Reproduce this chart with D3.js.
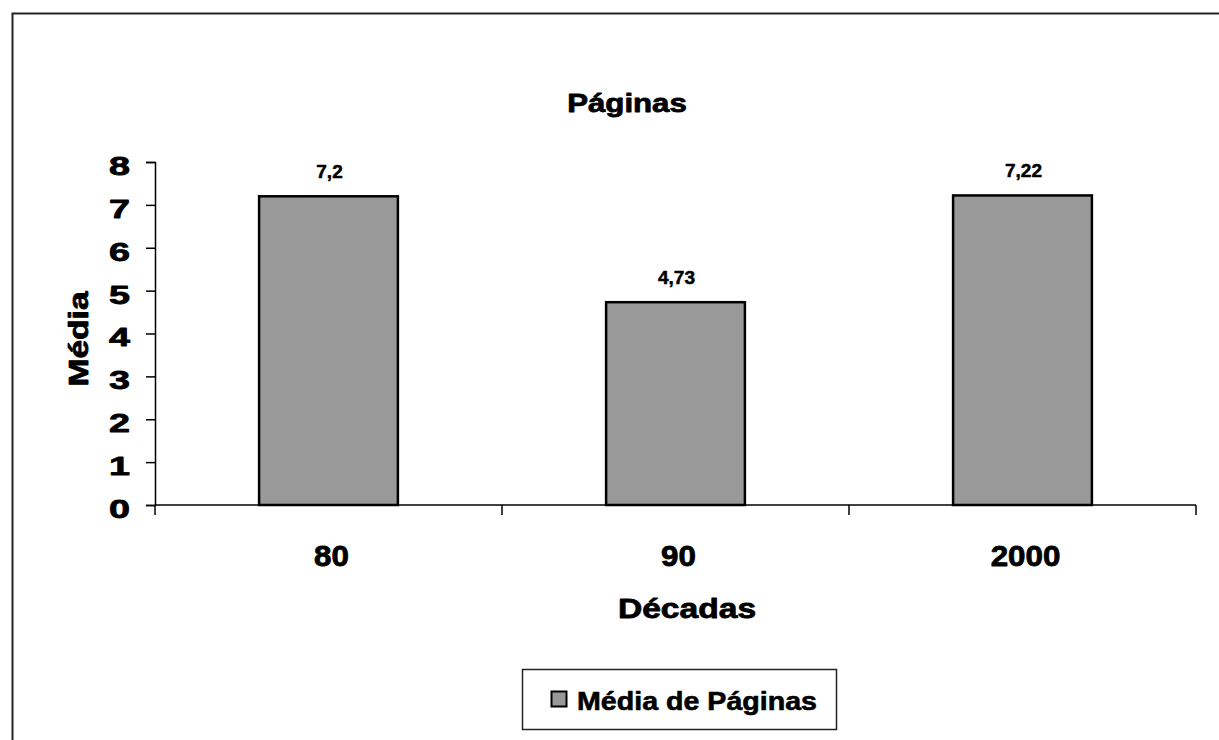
<!DOCTYPE html>
<html>
<head>
<meta charset="utf-8">
<script src="https://cdn.jsdelivr.net/npm/d3@7"></script>
<style>
  html, body { margin: 0; padding: 0; background: #fff; }
  svg { display: block; }
  text { font-family: "Liberation Sans", Arial, sans-serif; font-weight: bold; fill: #000; }
</style>
</head>
<body>
<svg id="chart" width="1219" height="740"></svg>
<script>
// Average number of pages per decade
const decades = ["80", "90", "2000"];
const meanPages = [7.2, 4.73, 7.22];
const valueLabels = ["7,2", "4,73", "7,22"];
const yTicks = [0, 1, 2, 3, 4, 5, 6, 7, 8];
const seriesName = "Média de Páginas";

const svg = d3.select("#chart");

// heavy label look: bold face thickened with a thin outline
function heavy(sel, size, spacing, weight) {
  return sel
    .style("font-size", size + "px")
    .style("letter-spacing", (spacing || 0) + "px")
    .attr("stroke", "#000")
    .attr("stroke-width", weight == null ? 0.7 : weight)
    .attr("stroke-linejoin", "round");
}

// outer chart frame
svg.append("path")
  .attr("d", "M12.5,745 V13.5 H1225")
  .attr("fill", "none").attr("stroke", "#222").attr("stroke-width", 2);

const plot = { left: 155, right: 1196, top: 162, bottom: 505 };

const x = d3.scaleBand()
  .domain(decades)
  .range([plot.left, plot.right])
  .paddingInner(0.6)
  .paddingOuter(0.3);

const xOuter = d3.scaleBand().domain(decades).range([plot.left, plot.right]).padding(0);

const y = d3.scaleLinear().domain([0, 8]).range([plot.bottom, plot.top]);

// title (wide heavy face)
heavy(svg.append("text")
  .attr("transform", "translate(627,112) scale(1.2,1)")
  .attr("text-anchor", "middle")
  .text("Páginas"), 26, 0, 0.8);

// bars
svg.selectAll("rect.bar")
  .data(meanPages)
  .join("rect")
  .attr("class", "bar")
  .attr("x", (d, i) => x(decades[i]))
  .attr("y", d => y(d))
  .attr("width", x.bandwidth())
  .attr("height", d => y(0) - y(d))
  .attr("fill", "#999999")
  .attr("stroke", "#000")
  .attr("stroke-width", 2.5);

// value labels
heavy(svg.selectAll("text.val")
  .data(meanPages)
  .join("text")
  .attr("class", "val")
  .attr("x", (d, i) => x(decades[i]) + x.bandwidth() / 2 + 1)
  .attr("y", d => y(d) - 18)
  .attr("text-anchor", "middle")
  .text((d, i) => valueLabels[i]), 19, 0, 0.5);

// y axis
const yAxis = svg.append("g")
  .attr("transform", `translate(${plot.left},0)`)
  .call(d3.axisLeft(y).tickValues(yTicks).tickSize(9).tickFormat(d3.format("d")));
yAxis.select(".domain").attr("stroke", "#000").attr("stroke-width", 1.5);
yAxis.selectAll(".tick line").attr("stroke", "#000").attr("stroke-width", 1.5);
const yLabels = yAxis.selectAll(".tick text")
  .attr("x", null)
  .attr("dy", "0.48em")
  .attr("text-anchor", "end")
  .attr("transform", "translate(-25,0) scale(1.45,1)")
  .style("font-family", "'Liberation Sans', Arial, sans-serif")
  .style("font-weight", "bold");
heavy(yLabels, 26, 0, 0.8);

// x axis with tick marks at category boundaries
const xAxisG = svg.append("g").attr("transform", `translate(0,${plot.bottom})`);
xAxisG.append("line")
  .attr("x1", plot.left).attr("x2", plot.right)
  .attr("stroke", "#000").attr("stroke-width", 1.5);
const bounds = decades.map(d => xOuter(d)).concat([plot.right]);
xAxisG.selectAll("line.tick")
  .data(bounds)
  .join("line")
  .attr("class", "tick")
  .attr("x1", d => d).attr("x2", d => d)
  .attr("y1", 0).attr("y2", 10)
  .attr("stroke", "#000").attr("stroke-width", 1.5);
heavy(xAxisG.selectAll("text")
  .data(decades)
  .join("text")
  .attr("transform", d => `translate(${x(d) + x.bandwidth() / 2 + 3},61) scale(1.08,1)`)
  .attr("text-anchor", "middle")
  .text(d => d), 29, 0, 0.8);

// axis titles
heavy(svg.append("text")
  .attr("transform", "translate(687,618) scale(1.2,1)")
  .attr("text-anchor", "middle")
  .text("Décadas"), 28, 0, 0.8);

heavy(svg.append("text")
  .attr("transform", "translate(88,339) rotate(-90) scale(1.2,1)")
  .attr("text-anchor", "middle")
  .text("Média"), 28, 0, 0.8);

// legend
const legend = svg.append("g").attr("transform", "translate(522,669)");
legend.append("rect")
  .attr("x", 0.5).attr("y", 0.5).attr("width", 314).attr("height", 60)
  .attr("fill", "#fff").attr("stroke", "#222").attr("stroke-width", 1.5);
legend.append("rect")
  .attr("x", 29.5).attr("y", 22.5).attr("width", 15).attr("height", 15)
  .attr("fill", "#999999").attr("stroke", "#000").attr("stroke-width", 2);
heavy(legend.append("text")
  .attr("transform", "translate(55,41) scale(1.1,1)")
  .text(seriesName), 26, 0, 0.6);
</script>
</body>
</html>
